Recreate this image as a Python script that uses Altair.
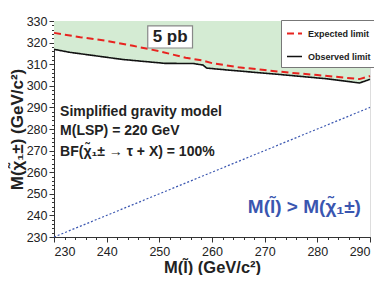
import altair as alt
import pandas as pd

# ---- data ----
exp_x = [230, 235, 240, 245, 250, 255, 258, 260, 265, 270, 275, 280, 285, 288, 290]
exp_y = [324.5, 322.5, 320.8, 318.5, 316.0, 313.0, 311.8, 310.5, 308.6, 307.3, 306.0, 305.0, 303.8, 303.1, 304.5]
obs_x = [230, 233, 243, 251, 256.5, 258.3, 259, 263, 273, 282, 288, 290]
obs_y = [316.9, 315.5, 312.2, 310.4, 310.3, 309.6, 308.2, 307.3, 305.2, 303.2, 301.3, 303.0]
diag_x = [230, 290]
diag_y = [230, 290]
series = ["Expected limit", "Observed limit"]
x_ticks = [230, 240, 250, 260, 270, 280, 290]
y_ticks = [230, 240, 250, 260, 270, 280, 290, 300, 310, 320, 330]
x_minor = list(range(230, 291, 2))
y_minor = list(range(230, 331, 2))

ann_text = ["Simplified gravity model", "M(LSP) = 220 GeV", "BF(χ̃₁± → τ  + X) = 100%"]
ann_x = [231.15, 231.15, 231.15]
ann_y = [286.0, 277.2, 267.3]

FONT = "Liberation Sans"
GREEN = "#d4ebd3"
BLUE = "#3a56b0"

xs = alt.Scale(domain=[230, 290], nice=False, zero=False)
ys = alt.Scale(domain=[230, 330], nice=False, zero=False)

obs_df = pd.DataFrame({"x": obs_x, "y": obs_y})
lines_df = pd.concat([
    pd.DataFrame({"x": exp_x, "y": exp_y, "s": series[0]}),
    pd.DataFrame({"x": obs_x, "y": obs_y, "s": series[1]}),
])
diag_df = pd.DataFrame({"x": diag_x, "y": diag_y})
ann_df = pd.DataFrame({"x": ann_x, "y": ann_y, "t": ann_text})


def X(field):
    return alt.X(field, scale=xs, axis=None)


def Y(field):
    return alt.Y(field, scale=ys, axis=None)


x_axis = alt.Axis(values=x_ticks, title="M(l̃) (GeV/c²)", tickSize=5, labelFontSize=12.5,
                  labelFont=FONT, labelColor="#222", titleFont=FONT, titleFontSize=16.5,
                  titleFontWeight="bold", titleColor="#222", labelPadding=3, titlePadding=2,
                  domainColor="#333", tickColor="#333", grid=False, orient="bottom")
y_axis = alt.Axis(values=y_ticks, title="M(χ̃₁±) (GeV/c²)", tickSize=5, labelFontSize=12.5,
                  labelFont=FONT, labelColor="#222", titleFont=FONT, titleFontSize=17,
                  titleFontWeight="bold", titleColor="#222", labelPadding=2, titlePadding=0,
                  domainColor="#333", tickColor="#333", grid=False, orient="left")

area = alt.Chart(obs_df).mark_area(color=GREEN, opacity=1).encode(
    x=alt.X("x:Q", scale=xs, axis=x_axis),
    y=alt.Y("y:Q", scale=ys, axis=y_axis),
    y2=alt.datum(330),
)

diag = alt.Chart(diag_df).mark_line(color=BLUE, strokeDash=[2, 2], strokeWidth=1.2).encode(
    x=X("x:Q"), y=Y("y:Q")
)

leg = alt.Legend(orient="none", legendX=227, legendY=-1, title=None, symbolType="stroke",
                 fillColor="white", strokeColor="#777", padding=5, labelFontSize=9,
                 labelFont=FONT, labelFontWeight="bold", labelColor="#222",
                 symbolSize=225, symbolStrokeWidth=2, rowPadding=9, labelOffset=5)

lines = alt.Chart(lines_df).mark_line().encode(
    x=X("x:Q"), y=Y("y:Q"),
    color=alt.Color("s:N", scale=alt.Scale(domain=series, range=["#e8231f", "#111111"]), legend=leg),
    strokeDash=alt.StrokeDash("s:N", scale=alt.Scale(domain=series, range=[[7, 4], [1, 0]]), legend=leg),
    strokeWidth=alt.StrokeWidth("s:N", scale=alt.Scale(domain=series, range=[2, 1.6]), legend=None),
)

box_df = pd.DataFrame({"x": [247.8], "x2": [256.3], "y": [317.5], "y2": [327.7], "t": ["5 pb"],
                       "cx": [252.05], "cy": [322.6]})
box = alt.Chart(box_df).mark_rect(fill="white", stroke="#888", strokeWidth=1.2).encode(
    x=X("x:Q"), x2="x2", y=Y("y:Q"), y2="y2"
)
box_text = alt.Chart(box_df).mark_text(font=FONT, fontSize=17, fontWeight="bold", color="#222",
                                       baseline="middle", align="center").encode(
    x=X("cx:Q"), y=Y("cy:Q"), text="t:N"
)

ann = alt.Chart(ann_df).mark_text(font=FONT, fontSize=14, fontWeight="bold", color="#222",
                                  align="left", baseline="alphabetic").encode(
    x=X("x:Q"), y=Y("y:Q"), text="t:N"
)

blue_df = pd.DataFrame({"x": [266.8], "y": [241.1], "t": ["M(l̃) > M(χ̃₁±)"]})
blue_text = alt.Chart(blue_df).mark_text(font=FONT, fontSize=19, fontWeight="bold", color=BLUE,
                                         align="left", baseline="alphabetic").encode(
    x=X("x:Q"), y=Y("y:Q"), text="t:N"
)

minor_df = pd.DataFrame({"x": [230], "y": [230]})
minor = alt.Chart(minor_df).mark_point(opacity=0).encode(
    x=alt.X("x:Q", scale=xs, axis=alt.Axis(values=x_minor, labels=False, title=None, tickSize=2.5,
                                            domain=False, grid=False, orient="bottom", tickColor="#333")),
    y=alt.Y("y:Q", scale=ys, axis=alt.Axis(values=y_minor, labels=False, title=None, tickSize=2.5,
                                            domain=False, grid=False, orient="left", tickColor="#333")),
)

chart = alt.layer(area, diag, lines, box, box_text, ann, blue_text, minor).resolve_axis(
    x="independent", y="independent"
).properties(
    width=316, height=216,
    autosize=alt.AutoSizeParams(type="none"),
    padding={"left": 46, "top": 13, "right": 4, "bottom": 38},
).configure_view(stroke="#333", strokeWidth=1.5).configure(background="white")

chart.save("out.html", embed_options={"renderer": "svg", "actions": False})
